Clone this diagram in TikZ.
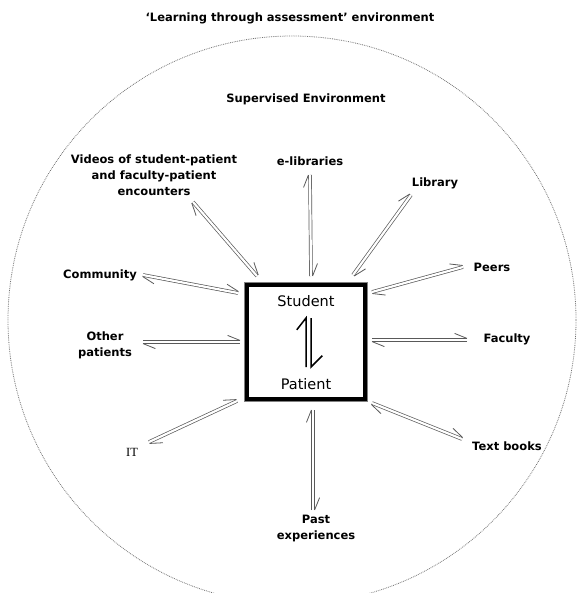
\documentclass[tikz,border=0pt]{standalone}
\usepackage{fontspec}
\setmainfont{DejaVu Sans}
\newfontfamily\itfont{Liberation Serif}
\usetikzlibrary{calc}
\newcommand\dharp[2]{%
  \draw[dline] (#1) -- (#2);
  \draw[barb] ($(#1)!1.6pt!-90:(#2)$) -- ($(#1)!14pt!-28:(#2)$);
  \draw[barb] ($(#2)!1.6pt!-90:(#1)$) -- ($(#2)!14pt!-28:(#1)$);}
\begin{document}
\begin{tikzpicture}[x=1pt,y=-1pt,
  lbl/.style={font=\bfseries\fontsize{11.5}{16}\selectfont, align=center, inner sep=0pt},
  bigl/.style={font=\fontsize{14.5}{16}\selectfont, inner sep=0pt},
  dline/.style={draw=black!65, double=white, line width=0.7pt, double distance=2.2pt},
  barb/.style={draw=black!65, line width=0.8pt},
  inarrow/.style={draw=black, line width=1.5pt, line join=miter},
  corebox/.style={draw=black, line width=3.5pt, minimum width=118pt, minimum height=114pt, inner sep=0pt}]
\useasboundingbox (0,0) rectangle (579,593);
\begin{scope}
  \clip (0,0) rectangle (579,593);
  \draw[densely dotted, black!55, line width=0.8pt] (292,320) circle[radius=284];
\end{scope}
% labels
\node[lbl] (title) at (290,18) {`Learning through assessment' environment};
\node[lbl] (sup) at (306,99) {Supervised Environment};
\node[lbl] (videos) at (154,175) {Videos of student-patient\\and faculty-patient\\encounters};
\node[lbl] (elib) at (310,161) {e-libraries};
\node[lbl] (library) at (435,183) {Library};
\node[lbl] (peers) at (492,267) {Peers};
\node[lbl] (faculty) at (507,339) {Faculty};
\node[lbl] (textbooks) at (507,446) {Text books};
\node[lbl] (past) at (316,528) {Past\\experiences};
\node[inner sep=0pt, font=\itfont\fontsize{12.5}{14}\selectfont] (it) at (132,452) {IT};
\node[lbl] (other) at (105,345) {Other\\patients};
\node[lbl] (community) at (100,275) {Community};
% centre box
\node[corebox] (core) at (306,342) {};
\draw[black!50, line width=0.8pt] ([shift={(-1,-1)}]core.north west) rectangle ([shift={(1,1)}]core.south east);
\node[bigl] (student) at (306,301) {Student};
\node[bigl] (patient) at (306,384) {Patient};
\coordinate (ha) at (306,318); \coordinate (hb) at (306,367);
\coordinate (hc) at (311,367); \coordinate (hd) at (311,318);
\draw[inarrow] (hb) -- (ha) -- ($(ha)!15pt!-38:(hb)$);
\draw[inarrow] (hd) -- (hc) -- ($(hc)!16pt!-45:(hd)$);
% connector end points
\coordinate (v1) at (193,202); \coordinate (v2) at (257,276);
\coordinate (e1) at (310,175); \coordinate (e2) at (311,276);
\coordinate (l1) at (411,195); \coordinate (l2) at (353,275);
\coordinate (p1) at (463,267); \coordinate (p2) at (372,292);
\coordinate (f1) at (467,340); \coordinate (f2) at (372,340);
\coordinate (t1) at (462,439); \coordinate (t2) at (372,403);
\coordinate (x1) at (313,510); \coordinate (x2) at (313,410);
\coordinate (i1) at (149,442); \coordinate (i2) at (237,401);
\coordinate (o1) at (143,342); \coordinate (o2) at (240,342);
\coordinate (c1) at (143,275); \coordinate (c2) at (238,293);
\dharp{v1}{v2}
\dharp{e1}{e2}
\dharp{l1}{l2}
\dharp{p1}{p2}
\dharp{f1}{f2}
\dharp{t1}{t2}
\dharp{x1}{x2}
\dharp{i1}{i2}
\dharp{o1}{o2}
\dharp{c1}{c2}
\end{tikzpicture}
\end{document}
